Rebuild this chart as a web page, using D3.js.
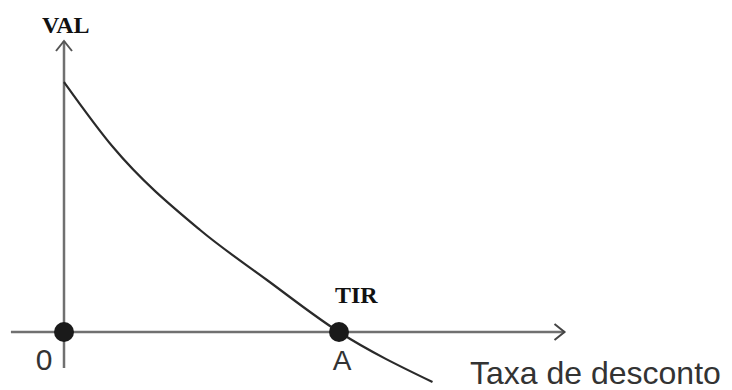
<!DOCTYPE html>
<html>
<head>
    <title>VAL vs Taxa de desconto</title>
    <script src="https://d3js.org/d3.v7.min.js"></script>
    <style>
        body {
            margin: 0;
            background-color: #fff;
        }
        .serif-label {
            font-family: "Liberation Serif", "Times New Roman", serif;
            font-weight: bold;
            fill: #111;
        }
        .sans-label {
            font-family: "Liberation Sans", Arial, sans-serif;
            fill: #333;
        }
    </style>
</head>
<body>
    <div id="chart"></div>
    <script>
        // taxa de desconto (rate) and VAL
        const rates = [0, 0.0178, 0.0495, 0.0738, 0.10, 0.134];
        const vals = [100, 74, 40.8, 20.8, 0, -20];
        const tir = 0.10;
        const pointLabels = ['0', 'A'];

        const width = 732;
        const height = 390;

        const svg = d3.select('#chart')
            .append('svg')
            .attr('width', width)
            .attr('height', height);

        const x = d3.scaleLinear().domain([0, 0.10]).range([64, 339]);
        const y = d3.scaleLinear().domain([0, 100]).range([332, 82]);

        const axisColor = '#707070';

        // eixo horizontal
        svg.append('line')
            .attr('x1', x(-0.0193)).attr('x2', x(0.182))
            .attr('y1', y(0)).attr('y2', y(0))
            .attr('stroke', axisColor).attr('stroke-width', 2.5);
        svg.append('path')
            .attr('d', `M${x(0.182) - 10},${y(0) - 8} L${x(0.182)},${y(0)} L${x(0.182) - 10},${y(0) + 8}`)
            .attr('fill', 'none').attr('stroke', '#444').attr('stroke-width', 2);

        // eixo vertical
        svg.append('line')
            .attr('x1', x(0)).attr('x2', x(0))
            .attr('y1', y(-14.4)).attr('y2', y(116.4))
            .attr('stroke', axisColor).attr('stroke-width', 2.5);
        svg.append('path')
            .attr('d', `M${x(0) - 8},${y(116.4) + 10} L${x(0)},${y(116.4)} L${x(0) + 8},${y(116.4) + 10}`)
            .attr('fill', 'none').attr('stroke', '#555').attr('stroke-width', 2);

        // curva VAL
        const line = d3.line()
            .x((d, i) => x(rates[i]))
            .y(d => y(d))
            .curve(d3.curveMonotoneX);

        svg.append('path')
            .attr('d', line(vals))
            .attr('fill', 'none')
            .attr('stroke', '#2a2a2a')
            .attr('stroke-width', 2.2);

        // pontos
        const points = [0, tir];
        svg.selectAll('.dot')
            .data(points)
            .enter()
            .append('circle')
            .attr('class', 'dot')
            .attr('cx', d => x(d))
            .attr('cy', y(0))
            .attr('r', 10)
            .attr('fill', '#1a1a1a');

        // rótulos
        svg.append('text')
            .attr('class', 'serif-label')
            .attr('x', 42).attr('y', 33)
            .attr('font-size', 24)
            .text('VAL');

        svg.append('text')
            .attr('class', 'serif-label')
            .attr('x', x(tir) - 4).attr('y', 303)
            .attr('font-size', 24)
            .text('TIR');

        svg.selectAll('.point-label')
            .data(points)
            .enter()
            .append('text')
            .attr('class', 'sans-label point-label')
            .attr('x', (d, i) => x(d) + (i === 0 ? -20 : 3))
            .attr('y', 370)
            .attr('text-anchor', 'middle')
            .attr('font-size', (d, i) => i === 0 ? 30 : 28)
            .text((d, i) => pointLabels[i]);

        svg.append('text')
            .attr('class', 'sans-label')
            .attr('x', 470).attr('y', 384)
            .attr('font-size', 32)
            .text('Taxa de desconto');
    </script>
</body>
</html>
